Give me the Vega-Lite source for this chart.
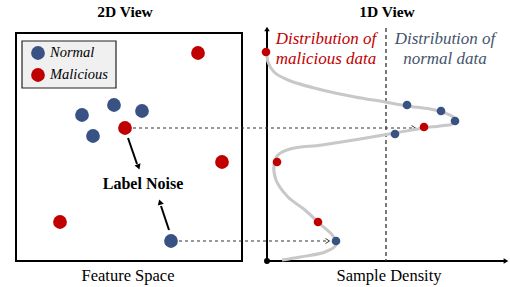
{
  "$schema": "https://vega.github.io/schema/vega-lite/v6.json",
  "width": 510,
  "height": 287,
  "autosize": {"type": "fit", "contains": "padding"},
  "padding": 0,
  "background": "white",
  "config": {"view": {"stroke": null}, "text": {"font": "Liberation Serif, Times New Roman, serif"}},
  "encoding": {
    "x": {"field": "x", "type": "quantitative", "scale": {"domain": [0, 510], "nice": false, "zero": false}, "axis": null},
    "y": {"field": "y", "type": "quantitative", "scale": {"domain": [0, 287], "nice": false, "zero": false, "reverse": true}, "axis": null}
  },
  "layer": [
    {
      "data": {"values": [{"x": 16, "y": 33, "x2": 242, "y2": 261}]},
      "mark": {"type": "rect", "fill": null, "filled": false, "stroke": "#000000", "strokeWidth": 2},
      "encoding": {"x2": {"field": "x2"}, "y2": {"field": "y2"}}
    },
    {
      "data": {"values": [{"x": 22, "y": 41, "x2": 116, "y2": 88}]},
      "mark": {"type": "rect", "fill": "#f0f0f0", "stroke": "#222222", "strokeWidth": 1.2},
      "encoding": {"x2": {"field": "x2"}, "y2": {"field": "y2"}}
    },
    {
      "data": {"values": [{"x": 267, "y": 30, "x2": 267, "y2": 261}, {"x": 267, "y": 261, "x2": 506, "y2": 261}]},
      "mark": {"type": "rule", "stroke": "#000000", "strokeWidth": 2},
      "encoding": {"x2": {"field": "x2"}, "y2": {"field": "y2"}}
    },
    {
      "data": {"values": [{"x": 386, "y": 28, "x2": 386, "y2": 261}]},
      "mark": {"type": "rule", "stroke": "#333333", "strokeWidth": 1.3, "strokeDash": [4, 3]},
      "encoding": {"x2": {"field": "x2"}, "y2": {"field": "y2"}}
    },
    {
      "data": {"values": [{"x": 133, "y": 128, "x2": 414, "y2": 128}, {"x": 179, "y": 241, "x2": 328, "y2": 241}]},
      "mark": {"type": "rule", "stroke": "#333333", "strokeWidth": 1, "strokeDash": [3, 3]},
      "encoding": {"x2": {"field": "x2"}, "y2": {"field": "y2"}}
    },
    {
      "data": {"values": [{"x": 414, "y": 128}, {"x": 328, "y": 241}]},
      "mark": {"type": "point", "shape": "M-1,-1L0.6,0L-1,1", "filled": false, "stroke": "#333333", "strokeWidth": 1, "size": 25, "opacity": 1}
    },
    {
      "data": {"values": [{"x": 128, "y": 138, "x2": 137, "y2": 164}, {"x": 169, "y": 230, "x2": 161, "y2": 206}]},
      "mark": {"type": "rule", "stroke": "#000000", "strokeWidth": 2},
      "encoding": {"x2": {"field": "x2"}, "y2": {"field": "y2"}}
    },
    {
      "data": {"values": [{"x": 138.5, "y": 167}]},
      "mark": {"type": "point", "shape": "triangle-up", "filled": true, "fill": "#000000", "strokeWidth": 0, "size": 40, "angle": 160, "opacity": 1}
    },
    {
      "data": {"values": [{"x": 160, "y": 202}]},
      "mark": {"type": "point", "shape": "triangle-up", "filled": true, "fill": "#000000", "strokeWidth": 0, "size": 40, "angle": 342, "opacity": 1}
    },
    {
      "data": {"values": [{"x": 267, "y": 29}]},
      "mark": {"type": "point", "shape": "triangle-up", "filled": true, "fill": "#000000", "strokeWidth": 0, "size": 30, "opacity": 1}
    },
    {
      "data": {"values": [{"x": 506, "y": 261}]},
      "mark": {"type": "point", "shape": "triangle-right", "filled": true, "fill": "#000000", "strokeWidth": 0, "size": 30, "opacity": 1}
    },
    {
      "data": {"values": [{"x": 267, "y": 261}]},
      "mark": {"type": "point", "shape": "circle", "filled": true, "fill": "#000000", "strokeWidth": 0, "size": 35, "opacity": 1}
    },
    {
      "data": {"values": [
        {"o": 1, "x": 267, "y": 52}, {"o": 2, "x": 268, "y": 62}, {"o": 3, "x": 274, "y": 72},
        {"o": 4, "x": 288, "y": 80}, {"o": 5, "x": 322, "y": 90}, {"o": 6, "x": 355, "y": 97},
        {"o": 7, "x": 385, "y": 102}, {"o": 8, "x": 407, "y": 106}, {"o": 9, "x": 430, "y": 109},
        {"o": 10, "x": 445, "y": 113}, {"o": 11, "x": 455, "y": 119}, {"o": 12, "x": 452, "y": 124},
        {"o": 13, "x": 440, "y": 126}, {"o": 14, "x": 424, "y": 128}, {"o": 15, "x": 395, "y": 133},
        {"o": 16, "x": 360, "y": 139}, {"o": 17, "x": 322, "y": 145}, {"o": 18, "x": 290, "y": 149},
        {"o": 19, "x": 278, "y": 155}, {"o": 20, "x": 274, "y": 165}, {"o": 21, "x": 276, "y": 180},
        {"o": 22, "x": 288, "y": 197}, {"o": 23, "x": 305, "y": 210}, {"o": 24, "x": 320, "y": 224},
        {"o": 25, "x": 333, "y": 236}, {"o": 26, "x": 336, "y": 245}, {"o": 27, "x": 325, "y": 252},
        {"o": 28, "x": 300, "y": 257}, {"o": 29, "x": 282, "y": 260}
      ]},
      "mark": {"type": "line", "stroke": "#c8c8c8", "strokeWidth": 3, "interpolate": "catmull-rom"},
      "encoding": {"order": {"field": "o", "type": "quantitative"}}
    },
    {
      "data": {"values": [
        {"x": 198, "y": 53, "cls": "Malicious"}, {"x": 82, "y": 115, "cls": "Normal"},
        {"x": 114, "y": 105, "cls": "Normal"}, {"x": 142, "y": 111, "cls": "Normal"},
        {"x": 93, "y": 136, "cls": "Normal"}, {"x": 125, "y": 128, "cls": "Malicious"},
        {"x": 222, "y": 162, "cls": "Malicious"}, {"x": 60, "y": 222, "cls": "Malicious"},
        {"x": 171, "y": 241, "cls": "Normal"},
        {"x": 38, "y": 53, "cls": "Normal"}, {"x": 38, "y": 75, "cls": "Malicious"}
      ]},
      "mark": {"type": "point", "shape": "circle", "filled": true, "size": 190, "opacity": 1, "strokeWidth": 0},
      "encoding": {"color": {"field": "cls", "type": "nominal", "scale": {"domain": ["Normal", "Malicious"], "range": ["#385283", "#c00000"]}, "legend": null}}
    },
    {
      "data": {"values": [
        {"x": 266, "y": 52, "cls": "Malicious"}, {"x": 407, "y": 105, "cls": "Normal"},
        {"x": 441, "y": 111, "cls": "Normal"}, {"x": 455, "y": 121, "cls": "Normal"},
        {"x": 424, "y": 127, "cls": "Malicious"}, {"x": 395, "y": 134, "cls": "Normal"},
        {"x": 277, "y": 162, "cls": "Malicious"}, {"x": 318, "y": 222, "cls": "Malicious"},
        {"x": 336, "y": 241, "cls": "Normal"}
      ]},
      "mark": {"type": "point", "shape": "circle", "filled": true, "size": 75, "opacity": 1, "strokeWidth": 0},
      "encoding": {"color": {"field": "cls", "type": "nominal", "scale": {"domain": ["Normal", "Malicious"], "range": ["#385283", "#c00000"]}, "legend": null}}
    },
    {
      "data": {"values": [{"x": 50, "y": 53, "t": "Normal"}, {"x": 50, "y": 75, "t": "Malicious"}]},
      "mark": {"type": "text", "align": "left", "baseline": "middle", "font": "Liberation Serif, Times New Roman, serif", "fontStyle": "italic", "fontSize": 14.5, "color": "#000000"},
      "encoding": {"text": {"field": "t"}}
    },
    {
      "data": {"values": [{"x": 125, "y": 12, "t": "2D View"}, {"x": 387, "y": 12, "t": "1D View"}]},
      "mark": {"type": "text", "align": "center", "baseline": "middle", "font": "Liberation Serif, Times New Roman, serif", "fontWeight": "bold", "fontSize": 15.5, "color": "#000000"},
      "encoding": {"text": {"field": "t"}}
    },
    {
      "data": {"values": [{"x": 143, "y": 184, "t": "Label Noise"}]},
      "mark": {"type": "text", "align": "center", "baseline": "middle", "font": "Liberation Serif, Times New Roman, serif", "fontWeight": "bold", "fontSize": 16, "color": "#000000"},
      "encoding": {"text": {"field": "t"}}
    },
    {
      "data": {"values": [{"x": 128, "y": 276, "t": "Feature Space"}, {"x": 389, "y": 276, "t": "Sample Density"}]},
      "mark": {"type": "text", "align": "center", "baseline": "middle", "font": "Liberation Serif, Times New Roman, serif", "fontSize": 16.5, "color": "#000000"},
      "encoding": {"text": {"field": "t"}}
    },
    {
      "data": {"values": [{"x": 326, "y": 39, "t": "Distribution of"}, {"x": 326, "y": 59, "t": "malicious data"}]},
      "mark": {"type": "text", "align": "center", "baseline": "middle", "font": "Liberation Serif, Times New Roman, serif", "fontStyle": "italic", "fontSize": 17, "color": "#c00000"},
      "encoding": {"text": {"field": "t"}}
    },
    {
      "data": {"values": [{"x": 445, "y": 39, "t": "Distribution of"}, {"x": 445, "y": 59, "t": "normal data"}]},
      "mark": {"type": "text", "align": "center", "baseline": "middle", "font": "Liberation Serif, Times New Roman, serif", "fontStyle": "italic", "fontSize": 17, "color": "#44546a"},
      "encoding": {"text": {"field": "t"}}
    }
  ]
}
